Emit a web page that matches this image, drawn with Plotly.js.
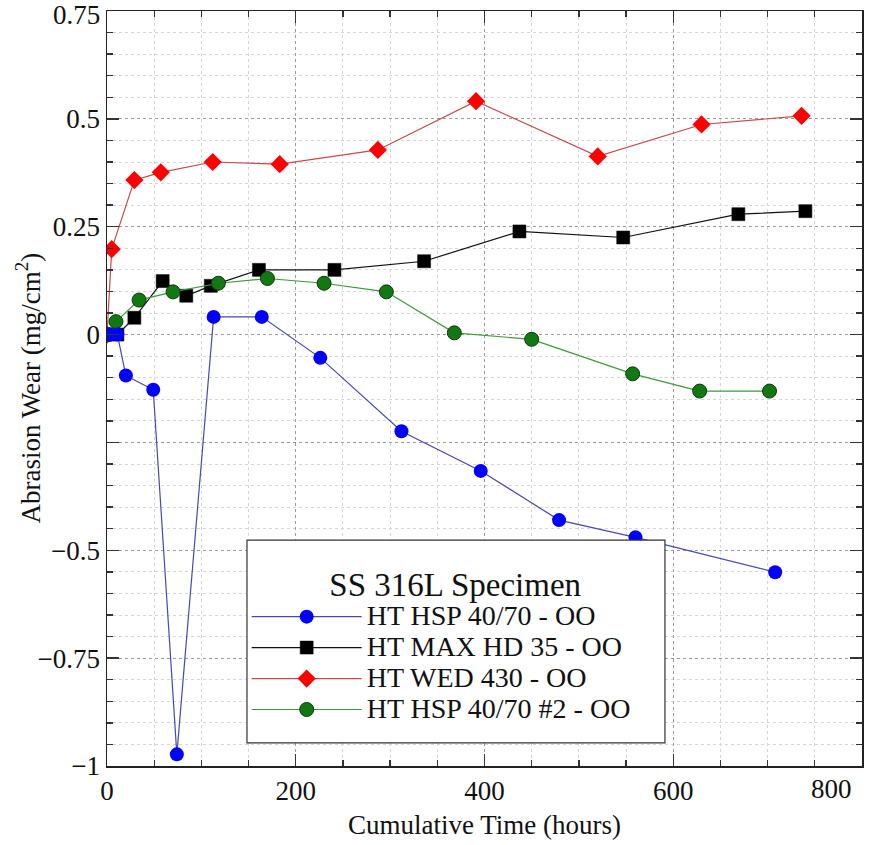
<!DOCTYPE html>
<html>
<head>
<meta charset="utf-8">
<script src="https://cdn.plot.ly/plotly-3.0.1.min.js"></script>
<style>html,body{margin:0;padding:0;background:#fff;}#chart{width:875px;height:845px;}</style>
</head>
<body>
<div id="chart"></div>
<script>
// Series names
const seriesNames = ["HT HSP 40/70 - OO", "HT MAX HD 35 - OO", "HT WED 430 - OO", "HT HSP 40/70 #2 - OO"];

// HT HSP 40/70 - OO (blue circles)
const hspTime = [2, 11, 20, 49, 74, 113, 164, 226, 312, 396, 479, 560, 708];
const hspWear = [0, 0, -0.095, -0.128, -0.973, 0.041, 0.041, -0.054, -0.224, -0.316, -0.43, -0.47, -0.551];

// HT MAX HD 35 - OO (black squares)
const maxTime = [11, 29, 59, 84, 110, 161, 241, 336, 437, 547, 669, 740];
const maxWear = [0, 0.039, 0.124, 0.09, 0.113, 0.15, 0.15, 0.17, 0.239, 0.225, 0.279, 0.286];

// HT WED 430 - OO (red diamonds)
const wedTime = [0, 5, 29, 57, 112, 183, 287, 391, 520, 630, 736];
const wedWear = [0, 0.198, 0.358, 0.376, 0.40, 0.395, 0.428, 0.541, 0.413, 0.487, 0.507];

// HT HSP 40/70 #2 - OO (green circles)
const hsp2Time = [2, 9.5, 34, 70, 118, 170, 230, 296, 368, 450, 557, 628, 702];
const hsp2Wear = [0, 0.03, 0.08, 0.099, 0.119, 0.13, 0.119, 0.099, 0.004, -0.011, -0.091, -0.131, -0.131];

// Axis ticks
const xTickVals = [0, 200, 400, 600, 800];
const xTickText = ["0", "200", "400", "600", ""];
const xLastLabel = "800";
const yTickVals = [0.75, 0.5, 0.25, 0, -0.25, -0.5, -0.75, -1];
const yTickText = ["", "0.5", "0.25", "0", "", "\u22120.5", "\u22120.75", "\u22121"];
const yTopLabel = "0.75";

const legendTitle = "SS 316L Specimen";
const xTitle = "Cumulative Time (hours)";
const yTitle = "Abrasion Wear (mg/cm<sup>2</sup>)";

const FONT = "Liberation Serif";
const PAD = "\u00a0\u00a0\u00a0\u00a0";
const legendLabel = (s) => '<span style="font-size:28px">' + s + PAD + '</span>';

const traces = [
  {
    x: maxTime, y: maxWear, name: legendLabel(seriesNames[1]), legendrank: 2,
    mode: "lines+markers", type: "scatter",
    line: {color: "#111111", width: 1.2},
    marker: {symbol: "square", size: 13, color: "#000000", line: {color: "#000", width: 0.5}}
  },
  {
    x: wedTime, y: wedWear, name: legendLabel(seriesNames[2]), legendrank: 3,
    mode: "lines+markers", type: "scatter",
    line: {color: "#c94a4a", width: 1.2},
    marker: {symbol: "diamond", size: 14, color: "#ff0000", line: {color: "#ff0000", width: 0}}
  },
  {
    x: hsp2Time, y: hsp2Wear, name: legendLabel(seriesNames[3]), legendrank: 4,
    mode: "lines+markers", type: "scatter",
    line: {color: "#3c9a3c", width: 1.2},
    marker: {symbol: "circle", size: 14, color: "#127812", line: {color: "#0a3a0a", width: 1}}
  },
  {
    x: hspTime, y: hspWear, name: legendLabel(seriesNames[0]), legendrank: 1,
    mode: "lines+markers", type: "scatter",
    line: {color: "#4848b0", width: 1.2},
    marker: {symbol: "circle", size: 14, color: "#0000ff", line: {color: "#0000ff", width: 0}}
  }
];

const axisCommon = {
  showline: true, linecolor: "#222", linewidth: 1.5, mirror: "allticks",
  ticks: "inside", ticklen: 12, tickwidth: 1.3, tickcolor: "#333",
  showgrid: true, gridcolor: "#9a9a9a", griddash: "dot", gridwidth: 1,
  zeroline: false, ticklabeloverflow: "allow",
  tickfont: {family: FONT, size: 27, color: "#111"},
};

const layout = {
  width: 875, height: 845,
  margin: {l: 107, r: 13, t: 11, b: 79},
  paper_bgcolor: "#fff", plot_bgcolor: "#fff",
  font: {family: FONT, color: "#111"},
  showlegend: true,
  xaxis: Object.assign({}, axisCommon, {
    range: [0, 800], tickmode: "array", tickvals: xTickVals, ticktext: xTickText,
    minor: {dtick: 50, tick0: 0, showgrid: true, gridcolor: "#d6d6d6", griddash: "dot", gridwidth: 1, ticks: "inside", ticklen: 6, tickcolor: "#333"},
    title: {text: xTitle, font: {family: FONT, size: 27, color: "#111"}, standoff: 10}
  }),
  yaxis: Object.assign({}, axisCommon, {
    range: [-1, 0.75], tickmode: "array", tickvals: yTickVals, ticktext: yTickText,
    minor: {dtick: 0.05, tick0: 0, showgrid: true, gridcolor: "#d6d6d6", griddash: "dot", gridwidth: 1, ticks: "inside", ticklen: 6, tickcolor: "#333"}
  }),
  legend: {
    x: 0.185, y: 0.299, xanchor: "left", yanchor: "top",
    bgcolor: "rgba(0,0,0,0)", borderwidth: 0,
    font: {family: FONT, size: 21.5, color: "#111"},
    title: {text: '<span style="font-size:33px">' + legendTitle + '</span>', side: "top center", font: {family: FONT, size: 43, color: "#111"}},
    itemwidth: 110, traceorder: "normal"
  },
  shapes: [{
    type: "rect", xref: "paper", yref: "paper", layer: "above",
    x0: 0.1854, x1: 0.739, y0: 0.0305, y1: 0.2993,
    fillcolor: "#ffffff", line: {color: "#333", width: 1.2}
  }],
  annotations: [
    {
      x: xTickVals[4], y: 0, xref: "x", yref: "paper", text: xLastLabel, showarrow: false,
      xanchor: "right", yanchor: "top", xshift: -8, yshift: -6,
      font: {family: FONT, size: 27, color: "#111"}
    },
    {
      x: 0, y: yTickVals[0], xref: "paper", yref: "y", text: yTopLabel, showarrow: false,
      xanchor: "right", yanchor: "middle", xshift: -5, yshift: -4,
      font: {family: FONT, size: 27, color: "#111"}
    },
    {
      x: 0, y: 0.5, xref: "paper", yref: "paper", text: yTitle, showarrow: false, textangle: -90,
      xanchor: "center", yanchor: "middle", xshift: -79,
      font: {family: FONT, size: 27, color: "#111"}
    }
  ]
};

Plotly.newPlot("chart", traces, layout, {displayModeBar: false, staticPlot: true});
</script>
</body>
</html>
